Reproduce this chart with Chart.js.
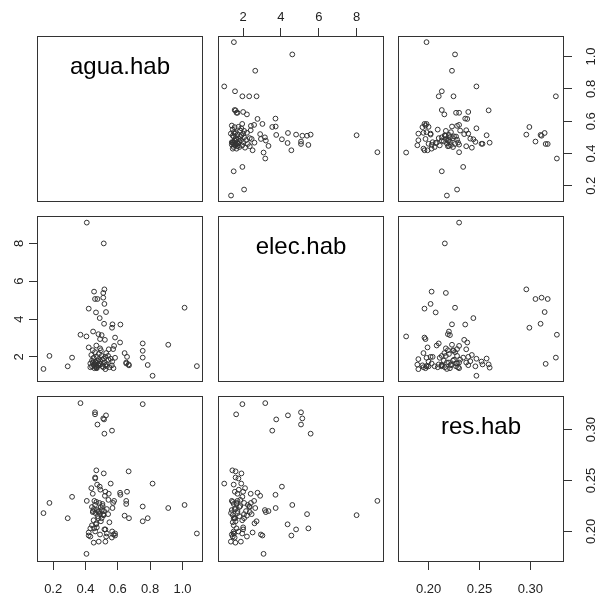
<!DOCTYPE html>
<html>
<head>
<meta charset="utf-8">
<script src="https://cdn.jsdelivr.net/npm/chart.js"></script>
<style>
  body { margin: 0; background: #fff; }
  #wrap { position: relative; width: 600px; height: 598px; }
  #wrap canvas { position: absolute; }
</style>
</head>
<body>
<div id="wrap"></div>
<script>
/* pairs plot: agua.hab / elec.hab / res.hab */

const varNames = ['agua.hab', 'elec.hab', 'res.hab'];

// one entry per observation, same order in the three arrays
const agua = [
  0.369, 0.754, 0.459, 0.459, 0.527, 0.510, 0.515, 0.474, 0.564, 0.517,
  0.408, 0.513, 1.089, 1.013, 0.815, 0.453, 0.510, 0.517, 0.420, 0.465,
  0.488, 0.616, 0.567, 0.447, 0.406, 0.583, 0.480, 0.500, 0.490, 0.520,
  0.614, 0.754, 0.754, 0.912, 0.177, 0.317, 0.140, 0.290, 0.785, 0.667,
  0.657, 0.652, 0.652, 0.642, 0.669, 0.467, 0.513, 0.460, 0.460, 0.472,
  0.556, 0.436, 0.492, 0.523, 0.544, 0.445, 0.577, 0.571, 0.451, 0.482,
  0.468, 0.486, 0.459, 0.505, 0.440, 0.452, 0.445, 0.470, 0.483, 0.462,
  0.506, 0.532, 0.490, 0.510, 0.540, 0.450, 0.480, 0.467, 0.440, 0.430,
  0.420, 0.430, 0.523, 0.532, 0.565, 0.573, 0.583, 0.563, 0.528, 0.523,
  0.495, 0.475, 0.500, 0.455, 0.515, 0.548, 0.470, 0.495, 0.542, 0.460
];
const elec = [
  3.17, 1.96, 1.63, 5.06, 4.37, 5.13, 3.75, 5.06, 3.54, 5.57,
  9.10, 8.00, 1.51, 4.60, 1.00, 5.45, 5.38, 4.80, 4.55, 4.35,
  4.05, 3.71, 3.72, 3.34, 3.08, 3.02, 3.20, 3.15, 2.94, 2.90,
  2.76, 2.71, 2.32, 2.64, 2.05, 1.96, 1.36, 1.50, 1.57, 1.60,
  2.00, 1.70, 1.65, 2.20, 1.55, 1.43, 1.91, 1.60, 1.75, 1.50,
  1.90, 2.10, 1.77, 1.56, 2.40, 1.70, 2.58, 2.41, 1.59, 1.88,
  1.45, 1.65, 2.25, 1.50, 1.80, 1.55, 2.35, 1.40, 2.15, 1.70,
  1.85, 1.60, 2.45, 1.45, 2.05, 1.95, 1.55, 2.60, 1.50, 1.65,
  2.50, 1.45, 2.00, 1.50, 1.75, 1.40, 1.95, 1.55, 2.20, 1.35,
  1.60, 1.80, 2.05, 1.40, 1.70, 1.45, 2.00, 2.35, 1.85, 1.50
];
const res = [
  0.326, 0.325, 0.315, 0.317, 0.314, 0.311, 0.310, 0.305, 0.299, 0.296,
  0.230, 0.216, 0.198, 0.226, 0.247, 0.203, 0.217, 0.202, 0.196, 0.207,
  0.244, 0.236, 0.223, 0.220, 0.178, 0.196, 0.219, 0.221, 0.197, 0.235,
  0.238, 0.210, 0.2245, 0.223, 0.228, 0.234, 0.218, 0.213, 0.213, 0.259,
  0.239, 0.230, 0.227, 0.2155, 0.213, 0.260, 0.257, 0.253, 0.252, 0.246,
  0.247, 0.2425, 0.241, 0.239, 0.237, 0.237, 0.230, 0.228, 0.189, 0.190,
  0.229, 0.228, 0.226, 0.227, 0.224, 0.222, 0.219, 0.221, 0.220, 0.218,
  0.225, 0.222, 0.217, 0.216, 0.217, 0.211, 0.213, 0.208, 0.206, 0.203,
  0.199, 0.195, 0.202, 0.198, 0.200, 0.197, 0.198, 0.194, 0.195, 0.190,
  0.210, 0.215, 0.213, 0.230, 0.220, 0.209, 0.204, 0.224, 0.231, 0.200
];

// axis ranges (data range + 4%) and ticks
const aguaLimits = [0.100, 1.127];
const elecLimits = [0.67, 9.45];
const resLimits = [0.170, 0.333];
const aguaTicks = [0.2, 0.4, 0.6, 0.8, 1.0];
const aguaTickLabels = ['0.2', '0.4', '0.6', '0.8', '1.0'];
const elecTicks = [2, 4, 6, 8];
const elecTickLabels = ['2', '4', '6', '8'];
const resTicks = [0.20, 0.25, 0.30];
const resTickLabels = ['0.20', '0.25', '0.30'];

const series = [agua, elec, res];
const limits = [aguaLimits, elecLimits, resLimits];
const tickVals = [aguaTicks, elecTicks, resTicks];
const tickTexts = [aguaTickLabels, elecTickLabels, resTickLabels];

const SIZE = 166;
const colLeft = [37, 218, 398];
const rowTop = [36, 216, 396];
const MARGIN = { top: 36, bottom: 36, left: 37, right: 36 };
const FONT = 'Liberation Sans, Arial, sans-serif';
const INK = '#333';

const boxPlugin = {
  id: 'box',
  afterDraw(chart) {
    const a = chart.chartArea, ctx = chart.ctx;
    ctx.save();
    ctx.strokeStyle = INK;
    ctx.lineWidth = 1;
    ctx.strokeRect(Math.round(a.left) + 0.5, Math.round(a.top) + 0.5,
                   Math.round(a.right - a.left) - 1, Math.round(a.bottom - a.top) - 1);
    const lab = chart.options.plugins.diagLabel;
    if (lab) {
      ctx.fillStyle = '#000';
      ctx.font = '24px ' + FONT;
      ctx.textAlign = 'center';
      ctx.textBaseline = 'alphabetic';
      ctx.fillText(lab, (a.left + a.right) / 2, a.top + 38);
    }
    ctx.restore();
  }
};

function axis(v, pos, shown) {
  const horiz = pos === 'top' || pos === 'bottom';
  let pad = 3;
  if (pos === 'bottom') pad = 12;
  if (pos === 'left') pad = 6;
  if (pos === 'right') pad = v === 2 ? 7 : 10;
  return {
    type: 'linear',
    position: pos,
    display: shown,
    min: limits[v][0],
    max: limits[v][1],
    afterBuildTicks: s => { s.ticks = tickVals[v].map(t => ({ value: t })); },
    afterFit: s => {
      s.paddingTop = s.paddingBottom = s.paddingLeft = s.paddingRight = 0;
      if (!shown) return;
      if (horiz) s.height = MARGIN[pos]; else s.width = MARGIN[pos];
    },
    grid: { drawOnChartArea: false, drawTicks: true, tickLength: 8, color: INK, tickColor: INK },
    border: { display: false },
    ticks: {
      autoSkip: false,
      padding: pad,
      color: '#222',
      font: { family: FONT, size: 13 },
      minRotation: horiz ? 0 : 90,
      maxRotation: horiz ? 0 : 90,
      crossAlign: horiz ? 'near' : 'center',
      callback: (val, idx) => tickTexts[v][idx]
    }
  };
}

const wrap = document.getElementById('wrap');

for (let i = 0; i < 3; i++) {
  for (let j = 0; j < 3; j++) {
    const top = i === 0 && j === 1;
    const bottom = i === 2 && j !== 1;
    const left = j === 0 && i === 1;
    const right = j === 2 && i !== 1;

    const x0 = colLeft[j] - (left ? MARGIN.left : 0);
    const y0 = rowTop[i] - (top ? MARGIN.top : 0);
    const w = SIZE + (left ? MARGIN.left : 0) + (right ? MARGIN.right : 0);
    const h = SIZE + (top ? MARGIN.top : 0) + (bottom ? MARGIN.bottom : 0);

    const cv = document.createElement('canvas');
    cv.width = w; cv.height = h;
    cv.style.left = x0 + 'px'; cv.style.top = y0 + 'px';
    cv.style.width = w + 'px'; cv.style.height = h + 'px';
    wrap.appendChild(cv);

    const pts = i === j ? [] : series[j].map((xv, k) => ({ x: xv, y: series[i][k] }));

    new Chart(cv, {
      type: 'scatter',
      data: {
        datasets: [{
          data: pts,
          pointStyle: 'circle',
          pointRadius: 2.4,
          pointBorderWidth: 1,
          borderColor: INK,
          backgroundColor: 'rgba(0,0,0,0)',
          clip: false
        }]
      },
      options: {
        responsive: false,
        animation: false,
        devicePixelRatio: 1,
        layout: { padding: 0, autoPadding: false },
        scales: {
          x: axis(j, top ? 'top' : 'bottom', top || bottom),
          y: axis(i, left ? 'left' : 'right', left || right)
        },
        plugins: {
          legend: { display: false },
          tooltip: { enabled: false },
          diagLabel: i === j ? varNames[i] : null
        }
      },
      plugins: [boxPlugin]
    });
  }
}
</script>
</body>
</html>
